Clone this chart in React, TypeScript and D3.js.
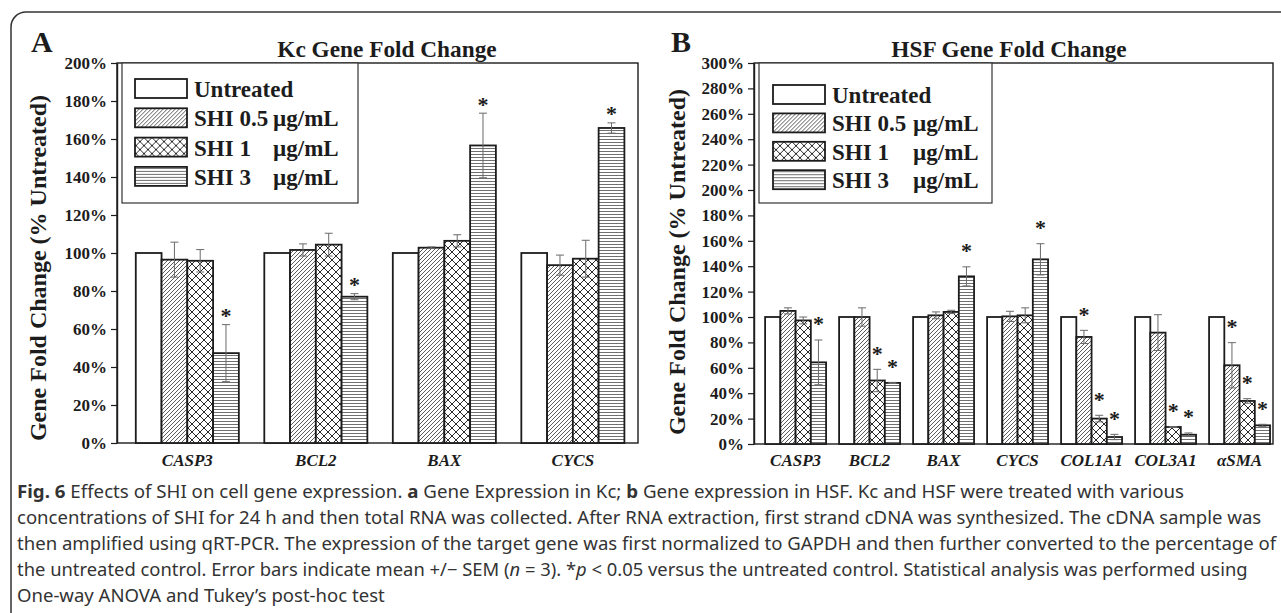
import React, { useRef, useEffect } from "react";
import * as d3 from "d3";

// categories
const kcGenes = ["CASP3", "BCL2", "BAX", "CYCS"];
const hsfGenes = ["CASP3", "BCL2", "BAX", "CYCS", "COL1A1", "COL3A1", "αSMA"];
const seriesNames = ["Untreated", "SHI 0.5", "SHI 1", "SHI 3"];
const seriesUnits = ["", "µg/mL", "µg/mL", "µg/mL"];

// Kc, % of untreated
const kcUntreated = [100, 100, 100, 100];
const kcShi05 = [96.5, 101.6, 102.8, 93.6];
const kcShi1 = [95.9, 104.4, 106.4, 97];
const kcShi3 = [47.3, 77, 156.6, 165.8];
const kcUntreatedErr = [0, 0, 0, 0];
const kcShi05Err = [9.2, 3.2, 0.4, 5.3];
const kcShi1Err = [5.9, 6, 3.2, 9.7];
const kcShi3Err = [15, 1.6, 17, 2.7];
const kcUntreatedSig = [0, 0, 0, 0];
const kcShi05Sig = [0, 0, 0, 0];
const kcShi1Sig = [0, 0, 0, 0];
const kcShi3Sig = [1, 1, 1, 1];
const kcTicks = [0, 20, 40, 60, 80, 100, 120, 140, 160, 180, 200];

// HSF, % of untreated
const hsfUntreated = [100, 100, 100, 100, 100, 100, 100];
const hsfShi05 = [104.8, 100, 101.3, 100.5, 84.3, 87.7, 62];
const hsfShi1 = [97.3, 50, 104, 101.3, 20, 13.4, 33.9];
const hsfShi3 = [64.3, 48.1, 132, 145.4, 5.5, 7.3, 14.7];
const hsfUntreatedErr = [0, 0, 0, 0, 0, 0, 0];
const hsfShi05Err = [2.4, 7.2, 2.7, 4, 5.2, 14.1, 17.8];
const hsfShi1Err = [2.7, 8.8, 1.3, 5.9, 2.6, 0.3, 1.8];
const hsfShi3Err = [17.6, 0.4, 7.5, 12.3, 2.1, 1.4, 0.8];
const hsfUntreatedSig = [0, 0, 0, 0, 0, 0, 0];
const hsfShi05Sig = [0, 0, 0, 0, 1, 0, 1];
const hsfShi1Sig = [0, 1, 0, 0, 1, 1, 1];
const hsfShi3Sig = [1, 1, 1, 1, 1, 1, 1];
const hsfTicks = [0, 20, 40, 60, 80, 100, 120, 140, 160, 180, 200, 220, 240, 260, 280, 300];

// caption, [text, style] pieces per line
const captionLines = [
  [["Fig. 6", "b"], [" Effects of SHI on cell gene expression. ", ""], ["a", "b"], [" Gene Expression in Kc; ", ""], ["b", "b"], [" Gene expression in HSF. Kc and HSF were treated with various", ""]],
  [["concentrations of SHI for 24 h and then total RNA was collected. After RNA extraction, first strand cDNA was synthesized. The cDNA sample was", ""]],
  [["then amplified using qRT-PCR. The expression of the target gene was first normalized to GAPDH and then further converted to the percentage of", ""]],
  [["the untreated control. Error bars indicate mean +/− SEM (", ""], ["n", "i"], [" = 3). *", ""], ["p", "i"], [" < 0.05 versus the untreated control. Statistical analysis was performed using", ""]],
  [["One-way ANOVA and Tukey’s post-hoc test", ""]],
];
// measured line widths; the last line just takes the average squeeze
const captionWidths = [1168, 1245, 1260, 1231, null];

const SERIF = "'Liberation Serif', 'Times New Roman', serif";
const INK = "#1c1c1c";
const fills = ["#ffffff", "url(#hatchDiag)", "url(#hatchCross)", "url(#hatchHoriz)"];

const panels = [
  {
    letter: "A", letterX: 31,
    title: "Kc Gene Fold Change", titleX: 387,
    genes: kcGenes,
    means: [kcUntreated, kcShi05, kcShi1, kcShi3],
    errs: [kcUntreatedErr, kcShi05Err, kcShi1Err, kcShi3Err],
    sigs: [kcUntreatedSig, kcShi05Sig, kcShi1Sig, kcShi3Sig],
    ticks: kcTicks, yMax: 200,
    x0: 117, x1: 638, yTop: 63, yBot: 443,
    padIn: 0.198, padOut: 0.126, align: 0.58,
    starLift: 1.5,
    labelX: 46, labelY: 268,
    legend: { x: 122, w: 236, h: 140, rowTop: 79, rowStep: 29.3, swX: 135, textX: 194, unitX: 273 },
  },
  {
    letter: "B", letterX: 671,
    title: "HSF Gene Fold Change", titleX: 1009,
    genes: hsfGenes,
    means: [hsfUntreated, hsfShi05, hsfShi1, hsfShi3],
    errs: [hsfUntreatedErr, hsfShi05Err, hsfShi1Err, hsfShi3Err],
    sigs: [hsfUntreatedSig, hsfShi05Sig, hsfShi1Sig, hsfShi3Sig],
    ticks: hsfTicks, yMax: 300,
    x0: 754, x1: 1273, yTop: 63, yBot: 444,
    padIn: 0.176, padOut: 0.095, align: 0.79,
    starLift: 8.5,
    labelX: 685, labelY: 262,
    legend: { x: 759, w: 233, h: 140, rowTop: 85, rowStep: 28.4, swX: 773, textX: 832, unitX: 913 },
  },
];

function drawPanel(svg, p) {
  const g = svg.append("g");
  const x = d3.scaleBand().domain(p.genes).range([p.x0, p.x1])
    .paddingInner(p.padIn).paddingOuter(p.padOut).align(p.align);
  const sub = d3.scaleBand().domain(d3.range(seriesNames.length)).range([0, x.bandwidth()]);
  const y = d3.scaleLinear().domain([0, p.yMax]).range([p.yBot, p.yTop]);

  const rows = p.genes.flatMap((gene, gi) =>
    p.means.map((m, si) => ({ gene, si, v: m[gi], e: p.errs[si][gi], sig: p.sigs[si][gi] }))
  );
  const cx = (d) => x(d.gene) + sub(d.si) + sub.bandwidth() / 2;

  // plot frame
  g.append("rect")
    .attr("x", p.x0).attr("y", p.yTop)
    .attr("width", p.x1 - p.x0).attr("height", p.yBot - p.yTop)
    .attr("fill", "none").attr("stroke", INK).attr("stroke-width", 1.4);

  // bars
  g.append("g").selectAll("rect").data(rows).join("rect")
    .attr("x", (d) => x(d.gene) + sub(d.si))
    .attr("y", (d) => y(d.v))
    .attr("width", sub.bandwidth())
    .attr("height", (d) => y(0) - y(d.v))
    .attr("fill", (d) => fills[d.si])
    .attr("stroke", INK).attr("stroke-width", 1.8);

  // error bars
  const eb = g.append("g").attr("stroke", "#6a6a6a").attr("stroke-width", 1);
  const withErr = rows.filter((d) => d.e > 0);
  eb.selectAll("line.v").data(withErr).join("line").attr("class", "v")
    .attr("x1", cx).attr("x2", cx)
    .attr("y1", (d) => y(d.v - d.e)).attr("y2", (d) => y(d.v + d.e));
  eb.selectAll("line.t").data(withErr).join("line").attr("class", "t")
    .attr("x1", (d) => cx(d) - 4).attr("x2", (d) => cx(d) + 4)
    .attr("y1", (d) => y(d.v + d.e)).attr("y2", (d) => y(d.v + d.e));
  eb.selectAll("line.b").data(withErr).join("line").attr("class", "b")
    .attr("x1", (d) => cx(d) - 4).attr("x2", (d) => cx(d) + 4)
    .attr("y1", (d) => y(d.v - d.e)).attr("y2", (d) => y(d.v - d.e));

  // significance stars
  g.append("g").selectAll("text").data(rows.filter((d) => d.sig)).join("text")
    .attr("x", cx)
    .attr("y", (d) => y(d.v + d.e) - p.starLift)
    .attr("text-anchor", "middle")
    .attr("font-family", SERIF).attr("font-weight", "bold").attr("font-size", 22)
    .attr("fill", INK)
    .text("*");

  // y axis
  const ax = g.append("g")
    .attr("transform", `translate(${p.x0},0)`)
    .call(d3.axisLeft(y).tickValues(p.ticks).tickFormat((d) => `${d}%`)
      .tickSize(6).tickPadding(4).tickSizeOuter(0));
  ax.select(".domain").attr("stroke", INK).attr("stroke-width", 1.4);
  ax.selectAll(".tick line").attr("stroke", INK).attr("stroke-width", 1.2);
  ax.selectAll(".tick text")
    .attr("font-family", SERIF).attr("font-weight", "bold").attr("font-size", 17)
    .attr("fill", INK);

  // category labels
  g.append("g").selectAll("text").data(p.genes).join("text")
    .attr("x", (d) => x(d) + x.bandwidth() / 2)
    .attr("y", 466)
    .attr("text-anchor", "middle")
    .attr("font-family", SERIF).attr("font-weight", "bold").attr("font-style", "italic")
    .attr("font-size", 17).attr("fill", INK)
    .text((d) => d);

  // y label
  g.append("text")
    .attr("transform", `translate(${p.labelX},${p.labelY}) rotate(-90)`)
    .attr("text-anchor", "middle")
    .attr("font-family", SERIF).attr("font-weight", "bold").attr("font-size", 24)
    .attr("fill", INK)
    .text("Gene Fold Change (% Untreated)");

  // title and panel letter
  g.append("text")
    .attr("x", p.titleX).attr("y", 57).attr("text-anchor", "middle")
    .attr("font-family", SERIF).attr("font-weight", "bold").attr("font-size", 23.3)
    .attr("fill", INK).text(p.title);
  g.append("text")
    .attr("x", p.letterX).attr("y", 52)
    .attr("font-family", SERIF).attr("font-weight", "bold").attr("font-size", 30)
    .attr("fill", INK).text(p.letter);

  // legend
  const L = p.legend;
  const lg = g.append("g");
  lg.append("rect")
    .attr("x", L.x).attr("y", p.yTop).attr("width", L.w).attr("height", L.h)
    .attr("fill", "#fff").attr("stroke", "#333").attr("stroke-width", 1.2);
  const items = lg.selectAll("g.item").data(seriesNames).join("g").attr("class", "item")
    .attr("transform", (d, i) => `translate(0,${L.rowTop + i * L.rowStep})`);
  items.append("rect")
    .attr("x", L.swX).attr("y", 0).attr("width", 52).attr("height", 19)
    .attr("fill", (d, i) => fills[i]).attr("stroke", INK).attr("stroke-width", 1.8);
  items.append("text")
    .attr("x", L.textX).attr("y", 18)
    .attr("font-family", SERIF).attr("font-weight", "bold").attr("font-size", 23)
    .attr("fill", INK).text((d) => d);
  items.append("text")
    .attr("x", L.unitX).attr("y", 18)
    .attr("font-family", SERIF).attr("font-weight", "bold").attr("font-size", 23)
    .attr("fill", INK).text((d, i) => seriesUnits[i]);
}

const App = () => {
  const ref = useRef(null);

  useEffect(() => {
    document.body.style.margin = "0";
    const svg = d3.select(ref.current);
    svg.selectAll("*").remove();
    svg.attr("width", 1281).attr("height", 613);

    const defs = svg.append("defs");
    const diag = defs.append("pattern").attr("id", "hatchDiag")
      .attr("patternUnits", "userSpaceOnUse").attr("width", 4).attr("height", 4);
    diag.append("rect").attr("width", 4).attr("height", 4).attr("fill", "#fff");
    diag.append("path").attr("d", "M-1,1 l2,-2 M0,4 l4,-4 M3,5 l2,-2")
      .attr("stroke", "#4a4a4a").attr("stroke-width", 0.9);

    const cross = defs.append("pattern").attr("id", "hatchCross")
      .attr("patternUnits", "userSpaceOnUse").attr("width", 8).attr("height", 8);
    cross.append("rect").attr("width", 8).attr("height", 8).attr("fill", "#fff");
    cross.append("path").attr("d", "M0,0 L8,8 M8,0 L0,8")
      .attr("stroke", "#2a2a2a").attr("stroke-width", 1);

    const horiz = defs.append("pattern").attr("id", "hatchHoriz")
      .attr("patternUnits", "userSpaceOnUse").attr("width", 6).attr("height", 3);
    horiz.append("rect").attr("width", 6).attr("height", 3).attr("fill", "#fff");
    horiz.append("line").attr("x1", 0).attr("x2", 6).attr("y1", 1.5).attr("y2", 1.5)
      .attr("stroke", "#707070").attr("stroke-width", 1);

    svg.append("rect").attr("width", 1281).attr("height", 613).attr("fill", "#fff");

    // outer figure frame
    svg.append("path")
      .attr("d", "M11,613 V27 A15,15 0 0 1 26,12 H1281")
      .attr("fill", "none").attr("stroke", "#333").attr("stroke-width", 1.5);

    panels.forEach((p) => drawPanel(svg, p));

    // caption, each line squeezed to the width it has in the figure
    const nodes = captionLines.map((line) => {
      const t = svg.append("text")
        .attr("font-family", "'Noto Sans', 'Open Sans', sans-serif")
        .attr("font-size", 18).attr("fill", "#333");
      line.forEach(([txt, st]) => {
        t.append("tspan")
          .attr("font-weight", st === "b" ? "bold" : null)
          .attr("font-style", st === "i" ? "italic" : null)
          .text(txt);
      });
      return t;
    });
    const ks = nodes.map((t, i) => {
      const len = t.node().getComputedTextLength();
      return captionWidths[i] && len > 0 ? captionWidths[i] / len : null;
    });
    const known = ks.filter((k) => k != null);
    const kAvg = known.length ? d3.mean(known) : 1;
    nodes.forEach((t, i) => {
      const k = ks[i] ?? kAvg;
      t.attr("transform", `translate(17,${498 + i * 26}) scale(${k},1)`);
    });
  }, []);

  return <svg ref={ref} style={{ display: "block" }}></svg>;
};

export default App;
